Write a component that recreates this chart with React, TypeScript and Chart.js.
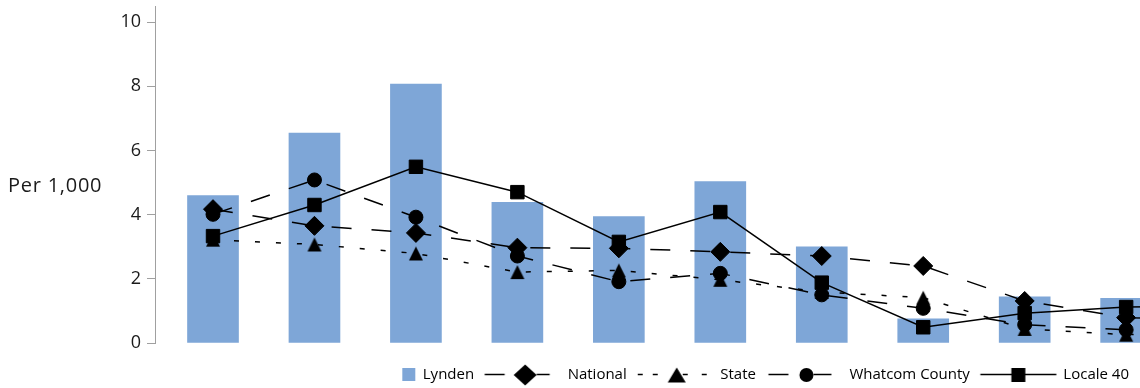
import React, { useEffect, useRef } from 'react';
import { Chart, registerables } from 'chart.js';

Chart.register(...registerables);

// ---- data ----
const categories = ['1', '2', '3', '4', '5', '6', '7', '8', '9', '10', '11'];
const lynden = [4.59, 6.54, 8.07, 4.38, 3.94, 5.03, 3.0, 0.75, 1.44, 1.39, null];
const national = [4.17, 3.65, 3.43, 2.97, 2.95, 2.84, 2.71, 2.4, 1.31, 0.79, 0.7];
const stateVals = [3.22, 3.07, 2.79, 2.21, 2.26, 1.97, 1.59, 1.41, 0.44, 0.26, 0.3];
const whatcom = [4.01, 5.08, 3.92, 2.71, 1.91, 2.17, 1.5, 1.08, 0.57, 0.41, 0.4];
const locale40 = [3.33, 4.3, 5.49, 4.7, 3.15, 4.08, 1.88, 0.49, 0.93, 1.12, 1.15];
const seriesNames = ['Lynden', 'National', 'State', 'Whatcom County', 'Locale 40'];
const yTicks = [0, 2, 4, 6, 8, 10];
const yAxisTitle = 'Per 1,000';

const BAR_COLOR = '#7ea6d7';
const TEXT_COLOR = '#1a1a1a';
const AXIS_COLOR = '#a0a0a0';
const FONT = 'Open Sans';

const CANVAS_W = 1153;
const CANVAS_H = 392;

function makeImg(w: number, h: number, draw: (g: CanvasRenderingContext2D) => void) {
  const c = document.createElement('canvas');
  c.width = w;
  c.height = h;
  const g = c.getContext('2d')!;
  draw(g);
  return c;
}

function hline(g: CanvasRenderingContext2D, x1: number, x2: number, y = 12.5) {
  g.beginPath();
  g.moveTo(x1, y);
  g.lineTo(x2, y);
  g.stroke();
}

const toXY = (arr: (number | null)[]) =>
  arr
    .map((v, i) => ({ x: i, y: v }))
    .filter((p) => p.y !== null);

export default function App() {
  const ref = useRef<HTMLCanvasElement>(null);

  useEffect(() => {
    const canvas = ref.current!;

    const triangle = makeImg(16, 16, (g) => {
      g.fillStyle = '#000';
      g.beginPath();
      g.moveTo(1, 15);
      g.lineTo(8, 1);
      g.lineTo(15, 15);
      g.closePath();
      g.fill();
    });

    const LW = 100;
    const LH = 25;
    const setup = (g: CanvasRenderingContext2D) => {
      g.strokeStyle = '#000';
      g.fillStyle = '#000';
      g.lineWidth = 1.5;
    };
    const legendImgs = [
      makeImg(LW, LH, (g) => {
        g.fillStyle = BAR_COLOR;
        g.fillRect(68, 6, 13, 13);
      }),
      makeImg(LW, LH, (g) => {
        setup(g);
        hline(g, 5.5, 25.5);
        hline(g, 57.5, 70.5);
        g.beginPath();
        g.moveTo(46, 2.5);
        g.lineTo(57.5, 13);
        g.lineTo(46, 23.5);
        g.lineTo(34.5, 13);
        g.closePath();
        g.fill();
      }),
      makeImg(LW, LH, (g) => {
        setup(g);
        [[6, 11], [21, 26], [51, 56], [70, 75]].forEach(([a, b]) => hline(g, a, b));
        g.beginPath();
        g.moveTo(36, 20.5);
        g.lineTo(45, 5.5);
        g.lineTo(54, 20.5);
        g.closePath();
        g.fill();
      }),
      makeImg(LW, LH, (g) => {
        setup(g);
        hline(g, 7.5, 27.5);
        hline(g, 52.5, 70.5);
        g.beginPath();
        g.arc(45.5, 13, 7, 0, Math.PI * 2);
        g.fill();
      }),
      makeImg(LW, LH, (g) => {
        setup(g);
        hline(g, 5.5, 81.5);
        g.fillRect(36.5, 6, 14, 14);
      }),
    ];

    const titlePlugin = {
      id: 'yTitle',
      afterDraw(chart: any) {
        const ctx = chart.ctx;
        ctx.save();
        ctx.font = `20px "${FONT}"`;
        (ctx as any).letterSpacing = '0.75px';
        ctx.fillStyle = TEXT_COLOR;
        ctx.textAlign = 'left';
        ctx.textBaseline = 'alphabetic';
        ctx.fillText(yAxisTitle, 8, 192);
        ctx.restore();
      },
    };

    const lineDs = (label: string, data: number[], dash: number[], style: any, radius: number, order: number) => ({
      type: 'line' as const,
      label,
      data: toXY(data),
      borderColor: '#000',
      borderWidth: 1.5,
      borderDash: dash,
      pointStyle: style,
      pointRadius: radius,
      pointBackgroundColor: '#000',
      pointBorderColor: '#000',
      pointBorderWidth: 1,
      fill: false,
      tension: 0,
      order,
    });

    const xMin = -0.5717;
    const xMax = xMin + (CANVAS_W - 155) / 101.46;

    const chart = new Chart(canvas, {
      type: 'bar',
      data: {
        labels: categories,
        datasets: [
          {
            type: 'bar',
            label: seriesNames[0],
            data: toXY(lynden) as any,
            backgroundColor: BAR_COLOR,
            borderWidth: 0,
            barThickness: 51,
            order: 5,
          } as any,
          lineDs(seriesNames[1], national, [20, 20], 'rectRot', 9.5, 4),
          lineDs(seriesNames[2], stateVals, [5, 16], triangle, 8, 3),
          lineDs(seriesNames[3], whatcom, [20, 20], 'circle', 7, 2),
          lineDs(seriesNames[4], locale40, [], 'rect', 9.5, 1),
        ],
      },
      options: {
        responsive: false,
        animation: false,
        events: [],
        layout: { autoPadding: false, padding: { top: 6, left: 0, right: 0, bottom: 0 } },
        scales: {
          x: {
            type: 'linear',
            display: false,
            min: xMin,
            max: xMax,
            offset: false,
            grid: { display: false },
          },
          y: {
            type: 'linear',
            min: 0,
            max: 10.5,
            afterBuildTicks: (s: any) => {
              s.ticks = yTicks.map((v) => ({ value: v }));
            },
            afterFit: (s: any) => {
              s.width = 155;
              s.paddingTop = 0;
              s.paddingBottom = 0;
            },
            ticks: {
              font: { family: FONT, size: 18 },
              color: TEXT_COLOR,
              padding: 6,
            },
            grid: {
              drawOnChartArea: false,
              drawTicks: true,
              tickLength: 8,
              color: AXIS_COLOR,
            },
            border: { display: true, color: AXIS_COLOR, width: 1 },
          },
        },
        plugins: {
          tooltip: { enabled: false },
          legend: {
            position: 'bottom',
            align: 'end',
            labels: {
              usePointStyle: true,
              pointStyleWidth: 62,
              padding: 24,
              font: { family: FONT, size: 15 },
              color: TEXT_COLOR,
              generateLabels: () =>
                seriesNames.map((name, i) => ({
                  text: name,
                  pointStyle: legendImgs[i],
                  fillStyle: '#000',
                  strokeStyle: '#000',
                  lineWidth: 0,
                  hidden: false,
                  datasetIndex: i,
                })) as any,
            },
          },
        },
      } as any,
      plugins: [titlePlugin],
    });

    return () => chart.destroy();
  }, []);

  return (
    <div
      style={{
        position: 'absolute',
        left: 0,
        top: 0,
        width: 1140,
        height: 388,
        overflow: 'hidden',
        background: '#fff',
      }}
    >
      <canvas
        ref={ref}
        width={CANVAS_W}
        height={CANVAS_H}
        style={{ display: 'block', width: `${CANVAS_W}px`, height: `${CANVAS_H}px` }}
      />
    </div>
  );
}
